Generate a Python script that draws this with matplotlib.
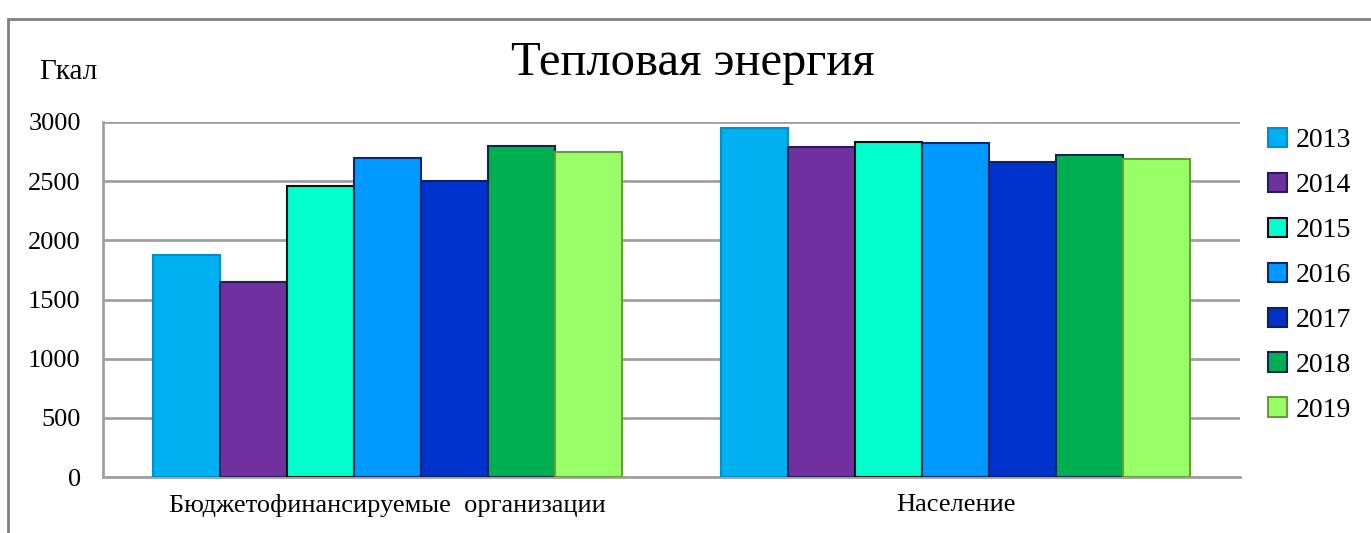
import matplotlib.pyplot as plt
import matplotlib.patches as mpatches
import numpy as np

# данные
categories = ['Бюджетофинансируемые  организации', 'Население']
years = ['2013', '2014', '2015', '2016', '2017', '2018', '2019']
v2013 = [1880, 2950]
v2014 = [1650, 2790]
v2015 = [2460, 2835]
v2016 = [2700, 2825]
v2017 = [2505, 2665]
v2018 = [2800, 2725]
v2019 = [2750, 2690]
series = [v2013, v2014, v2015, v2016, v2017, v2018, v2019]

colors = ['#00b0f0', '#7030a0', '#00ffcc', '#0099ff', '#0033cc', '#00b050', '#99ff66']
edges = ['#0090c8', '#1f1f5a', '#101010', '#0a2a6a', '#0a2060', '#0a2a50', '#6a9a40']

serif = ['Liberation Serif', 'DejaVu Serif']
plt.rcParams['font.family'] = serif

fig = plt.figure(figsize=(13.71, 5.33), dpi=100)
ax = fig.add_axes([103/1371, 1 - 477/533, (1240 - 103)/1371, (477 - 122)/533])

x = np.arange(len(categories))
n = len(series)
w = 0.825 / n
for i, vals in enumerate(series):
    ax.bar(x - 0.825/2 + w*(i + 0.5), vals, width=w, color=colors[i],
           edgecolor=edges[i], linewidth=1.5, label=years[i], zorder=3)

ax.set_xlim(-0.5, 1.5)
ax.set_ylim(0, 3000)
ax.set_yticks(range(0, 3001, 500))
ax.yaxis.grid(True, color='#a0a0a0', linewidth=2, zorder=0)
ax.tick_params(axis='y', length=0, pad=16, labelsize=19)
ax.set_xticks(x)
ax.set_xticklabels(categories)
ax.tick_params(axis='x', length=0, pad=12, labelsize=19)
for s in ['top', 'right']:
    ax.spines[s].set_visible(False)
for s in ['left', 'bottom']:
    ax.spines[s].set_color('#a0a0a0')
    ax.spines[s].set_linewidth(2)

fig.text(693/1371, 1 - 63/533, 'Тепловая энергия', ha='center', va='center', fontsize=35)
fig.text(68/1371, 1 - 72/533, 'Гкал', ha='center', va='center', fontsize=21)

fig.legend(loc='upper left', bbox_to_anchor=(1268/1371, 1 - 128/533), frameon=False,
           fontsize=20, handlelength=0.7, handleheight=0.7, handletextpad=0.3,
           labelspacing=0.7, borderpad=0, borderaxespad=0)

# рамка вокруг диаграммы
fig.patches.append(mpatches.Rectangle((8/1371, -0.1), 1.2, 1 - 19/533 + 0.1,
                                      transform=fig.transFigure, fill=False,
                                      edgecolor='#808080', linewidth=2))

fig.savefig('out.png', dpi=100)
